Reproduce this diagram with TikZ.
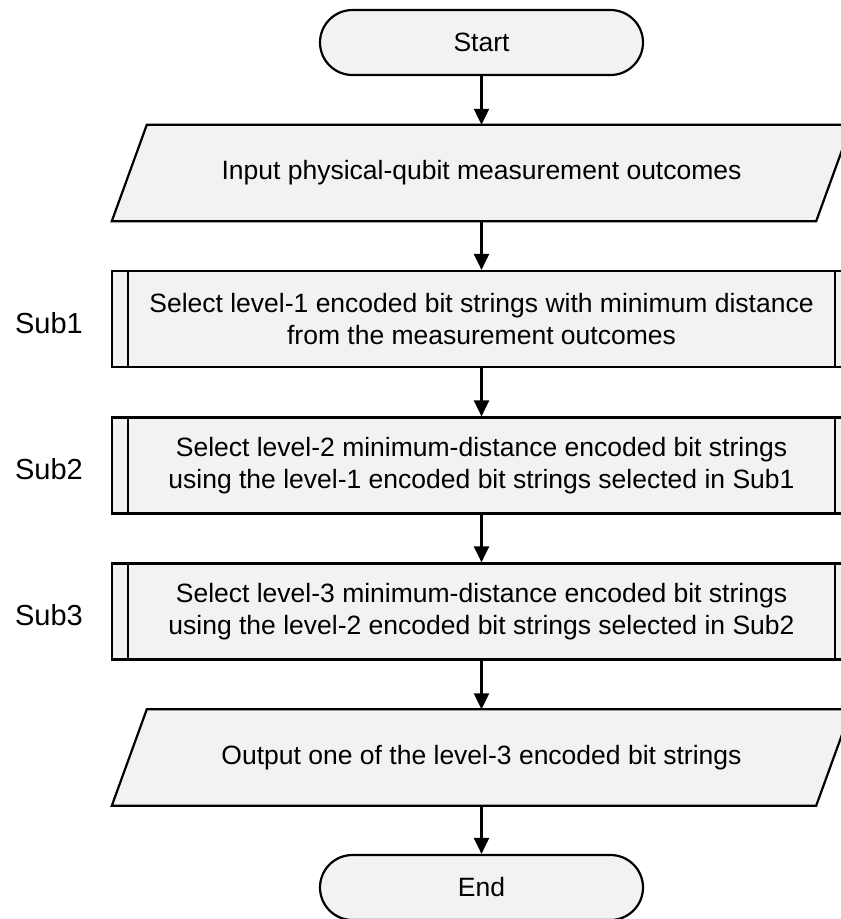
\documentclass[tikz,border=0pt]{standalone}
\usepackage{fontspec}
\setmainfont{Liberation Sans}
\usetikzlibrary{arrows.meta}
\definecolor{boxfill}{RGB}{242,242,242}
\pgfdeclarelayer{background}
\pgfsetlayers{background,main}

\begin{document}
\begin{tikzpicture}[x=1pt,y=1pt,
  every node/.style={font=\fontsize{26.5}{32}\selectfont},
  base/.style={draw=black, line width=2.2pt, fill=boxfill, align=center, inner sep=0pt},
  terminal/.style={base, rounded corners=32.5pt, minimum width=323pt, minimum height=65pt},
  subbox/.style={base, minimum width=739pt, minimum height=96pt},
  iocore/.style={align=center, inner sep=0pt, minimum width=704pt, minimum height=96pt},
  sublabel/.style={font=\fontsize{29}{34}\selectfont, anchor=base, inner sep=0pt},
  flow/.style={line width=2.2pt, -{Triangle[length=16pt,width=15pt]}},
]
\useasboundingbox (0,0) rectangle (841,-919);
\clip (0,0) rectangle (841,-919);

% flowchart nodes
\node[terminal] (start) at (481.5,-42.5) {Start};
\node[iocore] (inp) at (481.5,-173) {Input physical-qubit measurement outcomes};
\node[subbox] (s1) at (481.5,-319) {Select level-1 encoded bit strings with minimum distance\\from the measurement outcomes};
\node[subbox] (s2) at (481.5,-465.5) {Select level-2 minimum-distance encoded bit strings\\using the level-1 encoded bit strings selected in Sub1};
\node[subbox] (s3) at (481.5,-611.5) {Select level-3 minimum-distance encoded bit strings\\using the level-2 encoded bit strings selected in Sub2};
\node[iocore] (out) at (481.5,-757.5) {Output one of the level-3 encoded bit strings};
\node[terminal] (end) at (481.5,-887.5) {End};

% side labels of the sub-processes
\node[sublabel] (l1) at (49,-333) {Sub1};
\node[sublabel] (l2) at (49,-479.5) {Sub2};
\node[sublabel] (l3) at (49,-625.5) {Sub3};

% parallelogram outlines for the input/output steps
\begin{pgfonlayer}{background}
\foreach \n in {inp,out}{
  \draw[base] ([xshift=-17.5pt]\n.south west) -- ([xshift=17.5pt]\n.north west)
    -- ([xshift=17.5pt]\n.north east) -- ([xshift=-17.5pt]\n.south east) -- cycle;
}
\end{pgfonlayer}

% inner bars of the predefined-process boxes
\foreach \n in {s1,s2,s3}{
  \draw[line width=2.2pt] ([xshift=17pt]\n.north west) -- ([xshift=17pt]\n.south west);
  \draw[line width=2.2pt] ([xshift=-17pt]\n.north east) -- ([xshift=-17pt]\n.south east);
}

% connectors
\draw[flow] (start) -- (inp);
\draw[flow] (inp) -- (s1);
\draw[flow] (s1) -- (s2);
\draw[flow] (s2) -- (s3);
\draw[flow] (s3) -- (out);
\draw[flow] (out) -- (end);
\end{tikzpicture}
\end{document}
